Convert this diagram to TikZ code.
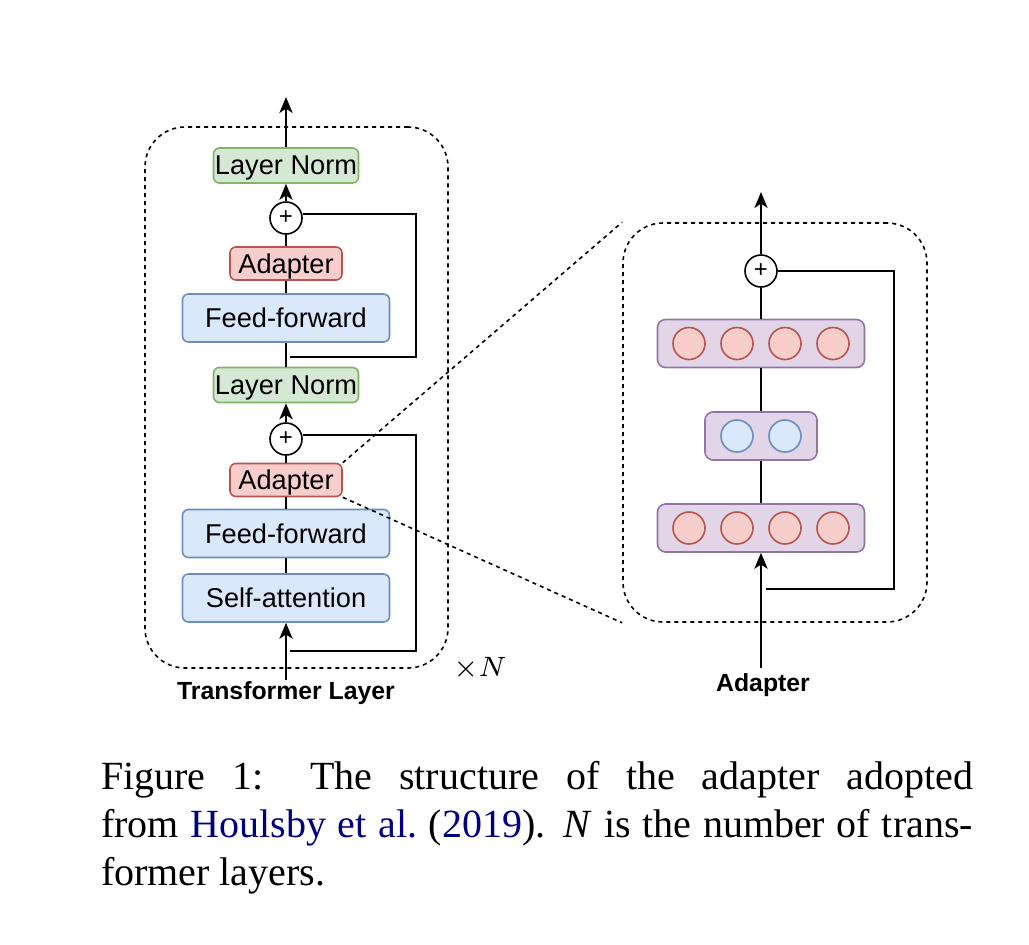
\documentclass[tikz,border=0pt]{standalone}
\usepackage{fontspec}
\setmainfont{Liberation Serif}
\setsansfont{Liberation Sans}
\usetikzlibrary{arrows.meta}

\definecolor{normfill}{HTML}{D5E8D4}
\definecolor{normdraw}{HTML}{82B366}
\definecolor{adfill}{HTML}{F8CECC}
\definecolor{addraw}{HTML}{B85450}
\definecolor{blockfill}{HTML}{DAE8FC}
\definecolor{blockdraw}{HTML}{6C8EBF}
\definecolor{layfill}{HTML}{E1D5E7}
\definecolor{laydraw}{HTML}{9673A6}
\definecolor{citeblue}{rgb}{0,0,0.5}

\begin{document}
\begin{tikzpicture}[x=0.25pt,y=-0.25pt,line width=0.5pt,
 font=\sffamily\fontsize{6.8}{8}\selectfont,
 box/.style={rounded corners=1.5pt,line width=0.4pt,inner sep=0pt,text depth=0pt},
 lnorm/.style={box,draw=normdraw,fill=normfill,minimum width=36.25pt,minimum height=8.75pt},
 adbox/.style={box,draw=addraw,fill=adfill,minimum width=28pt,minimum height=8.25pt},
 block/.style={box,draw=blockdraw,fill=blockfill,minimum width=51.75pt,minimum height=12pt},
 sum/.style={circle,draw,fill=white,line width=0.4pt,minimum size=8pt,inner sep=0pt,
  font=\sffamily\fontsize{6}{6}\selectfont},
 layer/.style={box,rounded corners=2pt,draw=laydraw,fill=layfill,minimum height=12pt},
 neuron/.style={circle,line width=0.4pt,minimum size=8pt,inner sep=0pt},
 frame/.style={draw,dash pattern=on 1pt off 1pt,line width=0.4pt,rounded corners=10pt},
 tip/.style={-{Stealth[length=4pt,width=3.3pt,inset=1.1pt]}},
 title/.style={font=\sffamily\bfseries\fontsize{6.2}{7}\selectfont}]
 \useasboundingbox (0,0) rectangle (1029,944);
 % transformer layer
 \node[frame,minimum width=75.75pt,minimum height=135.25pt] (tbox) at (296.5,397.5) {};
 \node[block] (sa) at (286,598) {Self-attention};
 \node[block] (ff1) at (286,533.5) {Feed-forward};
 \node[adbox] (ad1) at (286,480) {Adapter};
 \node[sum] (plus1) at (286,439) {+};
 \node[lnorm] (ln1) at (286,385) {Layer Norm};
 \node[block] (ff2) at (286,318) {Feed-forward};
 \node[adbox] (ad2) at (286,263.5) {Adapter};
 \node[sum] (plus2) at (286,218) {+};
 \node[lnorm] (ln2) at (286,165.5) {Layer Norm};
 \coordinate (in1) at (286,680);
 \coordinate (out1) at (286,97);
 \coordinate (res1) at (290,651);
 \coordinate (res2) at (290,357);
 \draw[tip] (in1) -- (sa);
 \draw (sa) -- (ff1) (ff1) -- (ad1) (ad1) -- (plus1);
 \draw[tip] (plus1) -- (ln1);
 \draw (ln1) -- (ff2) (ff2) -- (ad2) (ad2) -- (plus2);
 \draw[tip] (plus2) -- (ln2);
 \draw[tip] (ln2) -- (out1);
 \draw ([yshift=1pt]plus1.east) -| (416,651) -- (res1);
 \draw ([yshift=1pt]plus2.east) -| (416,357) -- (res2);
 \node[title] (tlabel) at (286,693) {Transformer Layer};
 \node (times) at (480,669) {$\times N$};
 % adapter
 \node[frame,minimum width=76pt,minimum height=99.75pt] (abox) at (775,422.5) {};
 \node[layer,minimum width=51.75pt] (down) at (761,528) {};
 \node[layer,minimum width=28pt] (mid) at (761,436) {};
 \node[layer,minimum width=51.75pt] (up) at (761,343.5) {};
 \foreach \i in {1,...,4} {
  \node[neuron,draw=addraw,fill=adfill] (d\i) at ({761+(\i-2.5)*48},528) {};
  \node[neuron,draw=addraw,fill=adfill] (u\i) at ({761+(\i-2.5)*48},343.5) {};
 }
 \foreach \i in {1,2}
  \node[neuron,draw=blockdraw,fill=blockfill] (m\i) at ({761+(\i-1.5)*48},436) {};
 \node[sum] (plus3) at (761,271) {+};
 \coordinate (in2) at (761,668);
 \coordinate (out2) at (761,192);
 \coordinate (res3) at (766,589);
 \draw[tip] (in2) -- (down);
 \draw (down) -- (mid) (mid) -- (up) (up) -- (plus3);
 \draw[tip] (plus3) -- (out2);
 \draw (plus3.east) -| (894,589) -- (res3);
 \node[title] (alabel) at (763,685) {Adapter};
 % zoom lines
 \draw[dash pattern=on 1pt off 1pt,line width=0.4pt] (ad1.north east) -- (abox.north west);
 \draw[dash pattern=on 1pt off 1pt,line width=0.4pt] (ad1.south east) -- (abox.south west);
 % caption
 \node[anchor=base west,inner sep=0pt,text width=218pt,align=justify,
  font=\rmfamily\fontsize{10}{12}\selectfont] (caption) at (100,789)
  {Figure 1: The structure of the adapter adopted\linebreak
  from \textcolor{citeblue}{Houlsby et al.}\ (\textcolor{citeblue}{2019}).
  \textit{N} is the number of trans-\linebreak former layers.};
\end{tikzpicture}
\end{document}
